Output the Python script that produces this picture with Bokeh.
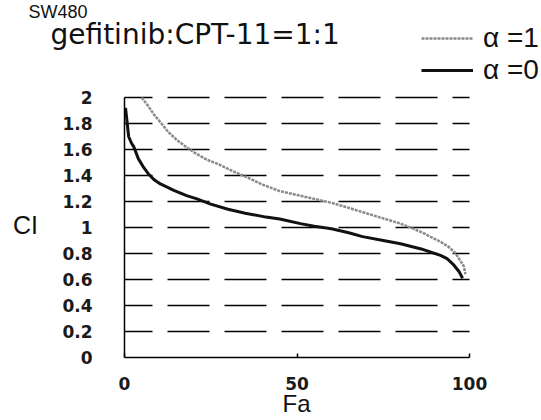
from bokeh.plotting import figure
from bokeh.models import Range1d, FixedTicker, Label, Legend, LegendItem
from bokeh.embed import file_html
from bokeh.resources import INLINE

# ---- data ----
fa_alpha1 = [5.0, 7.0, 8.5, 10.4, 12.5, 15.3, 20, 24, 27, 31.7, 36, 40, 45, 50, 55, 60,
             64.5, 70, 75, 80, 86, 91.6, 94, 96, 98.4, 98.8]
ci_alpha1 = [2.0, 1.93, 1.87, 1.81, 1.74, 1.67, 1.58, 1.52, 1.49, 1.43, 1.38, 1.33, 1.28,
             1.25, 1.22, 1.19, 1.155, 1.11, 1.07, 1.03, 0.965, 0.89, 0.85, 0.80, 0.70, 0.64]

fa_alpha0 = [0.3, 0.8, 1.2, 2.0, 2.7, 4.0, 5.6, 7.0, 8.5, 10.4, 14.3, 18, 21, 25, 30, 35,
             41, 45, 51, 55, 60, 65, 69, 75, 80, 86, 91.6, 93.5, 95.5, 97, 98]
ci_alpha0 = [1.92, 1.80, 1.70, 1.65, 1.62, 1.53, 1.46, 1.41, 1.37, 1.335, 1.285, 1.245,
             1.22, 1.18, 1.14, 1.11, 1.08, 1.065, 1.03, 1.01, 0.99, 0.96, 0.93, 0.90,
             0.875, 0.835, 0.785, 0.76, 0.71, 0.66, 0.61]

x_ticks = [0, 50, 100]
x_tick_labels = ["0", "50", "100"]
y_ticks = [0, 0.2, 0.4, 0.6, 0.8, 1, 1.2, 1.4, 1.6, 1.8, 2]
y_tick_labels = ["0", "0.2", "0.4", "0.6", "0.8", "1", "1.2", "1.4", "1.6", "1.8", "2"]

title_text = "gefitinib:CPT-11=1:1"
top_text = "SW480"
x_label = "Fa"
y_label = "CI"
legend_labels = ["\u03b1 =1", "\u03b1 =0"]

# ---- layout constants (pixels) ----
W, H = 541, 420
AX_LEFT, AX_RIGHT = 124, 469      # pixel positions of x = 0 and x = 100
AX_BOTTOM, AX_TOP = 357, 97       # pixel positions of y = 0 and y = 2
xs = (AX_RIGHT - AX_LEFT) / (x_ticks[-1] - x_ticks[0])
ys = (AX_BOTTOM - AX_TOP) / (y_ticks[-1] - y_ticks[0])

p = figure(width=W, height=H, output_backend="svg", toolbar_location=None,
           x_range=Range1d(-AX_LEFT / xs, (W - AX_LEFT) / xs),
           y_range=Range1d(-(H - AX_BOTTOM) / ys, AX_BOTTOM / ys),
           min_border=0, min_border_left=0, min_border_right=0,
           min_border_top=0, min_border_bottom=0)
p.outline_line_color = None
p.background_fill_color = "white"
p.border_fill_color = "white"

# dashed horizontal grid
p.xgrid.grid_line_color = None
p.ygrid.ticker = FixedTicker(ticks=y_ticks[1:])
p.ygrid.cross_bounds = (x_ticks[0], x_ticks[-1])
p.ygrid.grid_line_color = "black"
p.ygrid.grid_line_width = 1.6
p.ygrid.grid_line_dash = "42 15"
p.ygrid.grid_line_dash_offset = 14

r1 = p.line(fa_alpha1, ci_alpha1, line_color="#8a8a8a", line_width=2.5, line_dash="3 1")
r0 = p.line(fa_alpha0, ci_alpha0, line_color="#111111", line_width=3)

# axes, drawn at x = 0 / y = 0 inside the canvas
for ax in (p.xaxis[0], p.yaxis[0]):
    ax.axis_line_color = "black"
    ax.axis_line_width = 1.5
    ax.minor_tick_line_color = None
    ax.major_label_text_font = "DejaVu Sans"
    ax.major_label_text_font_style = "bold"
    ax.major_label_text_font_size = "17px"
    ax.major_label_text_color = "#1a1a1a"

p.xaxis.fixed_location = 0
p.xaxis.bounds = (x_ticks[0], x_ticks[-1])
p.xaxis.ticker = FixedTicker(ticks=x_ticks)
p.xaxis.major_label_overrides = dict(zip(x_ticks, x_tick_labels))
p.xaxis.major_tick_in = 4
p.xaxis.major_tick_out = 0
p.xaxis.major_tick_line_width = 1.5
p.xaxis.major_label_standoff = 19

p.yaxis.fixed_location = 0
p.yaxis.bounds = (y_ticks[0], y_ticks[-1])
p.yaxis.ticker = FixedTicker(ticks=y_ticks)
p.yaxis.major_label_overrides = dict(zip(y_ticks, y_tick_labels))
p.yaxis.major_tick_in = 0
p.yaxis.major_tick_out = 0
p.yaxis.major_label_standoff = 32

# texts, canvas pixels (y measured from top, converted to Bokeh's bottom-up screen units)
def lab(x, y_from_top, text, font, size, align="left", baseline="alphabetic"):
    return Label(x=x, y=H - y_from_top, x_units="screen", y_units="screen", text=text,
                 text_font=font, text_font_size=size, text_align=align,
                 text_baseline=baseline, text_color="#111")

p.add_layout(lab(28, 1, top_text, "Liberation Sans", "18px", baseline="top"))
p.add_layout(lab(50, 34, title_text, "DejaVu Sans", "28px"))
p.add_layout(lab(25, 224, y_label, "Liberation Sans", "25px", "center", "middle"))
p.add_layout(lab(296, 403, x_label, "Liberation Sans", "24px", "center", "middle"))

legend = Legend(items=[LegendItem(label=legend_labels[0], renderers=[r1]),
                       LegendItem(label=legend_labels[1], renderers=[r0])],
                location=(421, H - 86), orientation="vertical",
                label_text_font="Liberation Sans", label_text_font_size="28px",
                label_text_color="#111", label_height=28, glyph_height=28, glyph_width=52,
                label_standoff=10, spacing=0, padding=0, margin=0,
                border_line_color=None, background_fill_alpha=0)
p.add_layout(legend, "center")

open("out.html", "w").write(file_html(p, INLINE))
